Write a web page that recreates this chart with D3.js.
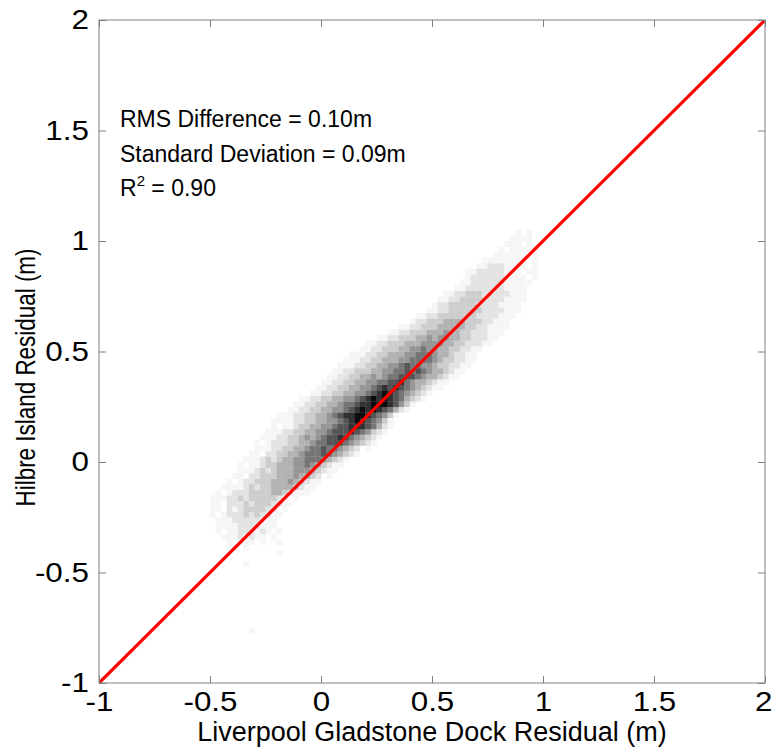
<!DOCTYPE html>
<html>
<head>
<meta charset="utf-8">
<script src="https://cdnjs.cloudflare.com/ajax/libs/d3/7.8.5/d3.min.js"></script>
<style>
  body { margin: 0; background: #fff; }
  text { font-family: "Liberation Sans", Arial, sans-serif; }
</style>
</head>
<body>
<script>
// axes
var axisDomain = [-1, 2];
var tickValues = [-1, -0.5, 0, 0.5, 1, 1.5, 2];
var tickLabels = ['-1', '-0.5', '0', '0.5', '1', '1.5', '2'];

// 2d histogram: bins of 0.025 m starting at -0.5 m on both axes
var binOrigin = -0.5;
var binSize = 0.025;
// [row, first column, level per column (0 = empty .. 9 = darkest)]
var densityRows = [
    [-11, 7, '1'],
    [1, 6, '1'],
    [3, 12, '1'],
    [4, 3, '11010'],
    [5, 3, '1011101001'],
    [6, 2, '11121211010'],
    [7, 1, '101122212101'],
    [8, 1, '11112222111'],
    [9, 0, '011122222111'],
    [10, 0, '1012223232211'],
    [11, 0, '11021233332201'],
    [12, 0, '110222323332211'],
    [13, 0, '1112232333332101'],
    [14, 1, '10122233334432111'],
    [15, 2, '11112323344443211'],
    [16, 3, '10122333444543211'],
    [17, 4, '110223334445443201'],
    [18, 5, '111232344455543211'],
    [19, 5, '1011233444556543211'],
    [20, 6, '1112323445566654321'],
    [21, 7, '11022334456667654321'],
    [22, 8, '111223344566766543201'],
    [23, 8, '1012223344566777654321'],
    [24, 9, '1112233454567787654321'],
    [25, 10, '1112233445567778765321'],
    [26, 11, '1011233445567788876421'],
    [27, 11, '1111223344556789876531'],
    [28, 12, '1112233445678899876531'],
    [29, 14, '1122334455678989876421'],
    [30, 15, '1122334456678899987531'],
    [31, 16, '11223344556789898764321'],
    [32, 18, '1122334455678987654321'],
    [33, 19, '11223344556787876543211'],
    [34, 20, '11223344556677865443211'],
    [35, 21, '112233445456677765443211'],
    [36, 22, '112233344556676765443211'],
    [37, 23, '111223344556766554332211'],
    [38, 24, '111223344455666654332211'],
    [39, 25, '11122334445566654432211'],
    [40, 27, '1122333445565544332211'],
    [41, 28, '11223334445555443322211'],
    [42, 30, '1122333445455443322211'],
    [43, 32, '112233344454433222111'],
    [44, 34, '11223334444433221111'],
    [45, 36, '122333444433322111'],
    [46, 37, '112233333332222111'],
    [47, 39, '11223333332222111'],
    [48, 40, '1223333322221111'],
    [49, 41, '1122333322221111'],
    [50, 42, '112233322222111'],
    [51, 44, '1122222221111'],
    [52, 45, '1122222211111'],
    [53, 46, '1222222111101'],
    [54, 46, '1122222111011'],
    [55, 48, '11222111101'],
    [56, 49, '1111111101'],
    [57, 51, '11111101'],
    [58, 52, '1011111'],
    [59, 53, '11101'],
    [60, 54, '1111'],
    [61, 55, '101']
];

// 1:1 line and stats box
var oneToOne = [-1, 2];
var statsLines = ['RMS Difference = 0.10m', 'Standard Deviation = 0.09m'];
var rSquared = '0.90';
var xTitle = 'Liverpool Gladstone Dock Residual (m)';
var yTitle = 'Hilbre Island  Residual (m)';

var W = 773, H = 749;
var margin = { top: 20, right: 8, bottom: 66, left: 99 };
var width = W - margin.left - margin.right;
var height = H - margin.top - margin.bottom;

var svg = d3.select('body').append('svg').attr('width', W).attr('height', H);
var g = svg.append('g').attr('transform', 'translate(' + margin.left + ',' + margin.top + ')');

var x = d3.scaleLinear().domain(axisDomain).range([0, width]);
var y = d3.scaleLinear().domain(axisDomain).range([height, 0]);
var grey = d3.scalePow().exponent(1.4).domain([1, 9]).range([246, 12]);

svg.append('defs').append('clipPath').attr('id', 'plotclip')
    .append('rect').attr('width', width).attr('height', height);

// flatten the rows into cells
var cells = [];
densityRows.forEach(function(r) {
    r[2].split('').forEach(function(ch, k) {
        var level = +ch;
        if (level > 0) cells.push({ row: r[0], col: r[1] + k, level: level });
    });
});

var plot = g.append('g').attr('clip-path', 'url(#plotclip)');

plot.selectAll('rect.cell')
    .data(cells)
    .enter()
    .append('rect')
    .attr('class', 'cell')
    .attr('x', function(d) { return x(binOrigin + d.col * binSize); })
    .attr('y', function(d) { return y(binOrigin + (d.row + 1) * binSize); })
    .attr('width', function(d) { return x(binOrigin + (d.col + 1) * binSize) - x(binOrigin + d.col * binSize) + 0.3; })
    .attr('height', function(d) { return y(binOrigin + d.row * binSize) - y(binOrigin + (d.row + 1) * binSize) + 0.3; })
    .attr('fill', function(d) { var v = Math.round(grey(d.level)); return d3.rgb(v, v, v); });

plot.append('line')
    .attr('x1', x(oneToOne[0])).attr('y1', y(oneToOne[0]))
    .attr('x2', x(oneToOne[1])).attr('y2', y(oneToOne[1]))
    .attr('stroke', '#ff0000')
    .attr('stroke-width', 3.2);

// axes, ticks pointing inwards on all four sides
var fmt = function(d, i) { return tickLabels[i]; };
var axisColor = '#808080';

var axB = g.append('g').attr('transform', 'translate(0,' + height + ')')
    .call(d3.axisBottom(x).tickValues(tickValues).tickFormat(fmt).tickSizeInner(-7).tickSizeOuter(0).tickPadding(8));
var axL = g.append('g')
    .call(d3.axisLeft(y).tickValues(tickValues).tickFormat(fmt).tickSizeInner(-7).tickSizeOuter(0).tickPadding(9));
var axT = g.append('g')
    .call(d3.axisTop(x).tickValues(tickValues).tickFormat('').tickSizeInner(-7).tickSizeOuter(0));
var axR = g.append('g').attr('transform', 'translate(' + width + ',0)')
    .call(d3.axisRight(y).tickValues(tickValues).tickFormat('').tickSizeInner(-7).tickSizeOuter(0));

[axB, axL, axT, axR].forEach(function(a) {
    a.select('.domain').remove();
    a.selectAll('line').attr('stroke', axisColor);
    a.selectAll('text').attr('fill', '#000').style('font-size', '28px')
        .attr('transform', 'scale(1.12,1)');
});
// keep the last x label inside the page
axB.selectAll('.tick text').filter(function(d) { return d === axisDomain[1]; }).attr('dx', -1.5);

g.append('rect')
    .attr('width', width).attr('height', height)
    .attr('fill', 'none').attr('stroke', axisColor).attr('stroke-width', 1);

// titles
svg.append('text')
    .attr('x', margin.left + width / 2)
    .attr('y', 741)
    .attr('text-anchor', 'middle')
    .style('font-size', '27px')
    .text(xTitle);

svg.append('text')
    .attr('transform', 'translate(35,' + (margin.top + height / 2 + 26) + ') rotate(-90)')
    .attr('text-anchor', 'middle')
    .attr('textLength', 258)
    .attr('lengthAdjust', 'spacingAndGlyphs')
    .style('font-size', '28px')
    .text(yTitle);

// stats text
var statsX = 120;
statsLines.forEach(function(s, i) {
    svg.append('text')
        .attr('x', statsX)
        .attr('y', 127 + i * 34.5)
        .style('font-size', '23px')
        .text(s);
});
var r2 = svg.append('text').attr('x', statsX).attr('y', 196).style('font-size', '23px');
r2.append('tspan').text('R');
r2.append('tspan').attr('dy', -10).style('font-size', '15px').text('2');
r2.append('tspan').attr('dy', 10).text(' = ' + rSquared);
</script>
</body>
</html>
